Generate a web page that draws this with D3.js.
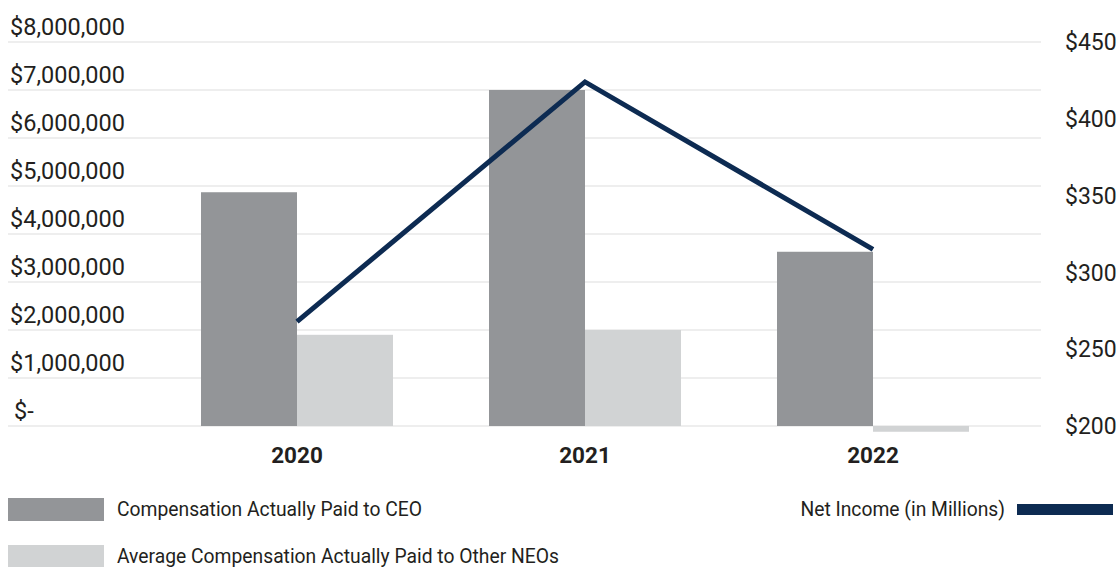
<!DOCTYPE html>
<html>
<head>
<meta charset="utf-8">
<script src="https://cdn.jsdelivr.net/npm/d3@7"></script>
<style>
  html, body { margin: 0; padding: 0; background: #fff; }
  svg { display: block; font-family: Roboto, "Noto Sans", sans-serif; }
</style>
</head>
<body>
<svg id="chart" width="1117" height="567"></svg>
<script>
// ---- data ----
const years = ["2020", "2021", "2022"];
const ceoPay = [4870000, 7000000, 3630000];
const neoPay = [1900000, 2000000, -120000];
const netIncome = [268, 424, 315];
const leftTicks = [0, 1000000, 2000000, 3000000, 4000000, 5000000, 6000000, 7000000, 8000000];
const rightTicks = [200, 250, 300, 350, 400, 450];
const seriesNames = ["Compensation Actually Paid to CEO", "Average Compensation Actually Paid to Other NEOs", "Net Income (in Millions)"];

const colors = { ceo: "#939598", neo: "#d1d3d4", line: "#0d2b52", grid: "#e8e8e8", text: "#231f20" };

const svg = d3.select("#chart");

const yL = d3.scaleLinear().domain([0, 8000000]).range([426, 42]);
const yR = d3.scaleLinear().domain([200, 450]).range([426, 42]);
const x0 = d3.scaleBand().domain(years).range([201, 969]).paddingInner(1/3).paddingOuter(0);
const x1 = d3.scaleBand().domain(["ceo", "neo"]).range([0, x0.bandwidth()]);

// gridlines
svg.append("g").selectAll("line").data(leftTicks).join("line")
  .attr("x1", 8).attr("x2", 1041)
  .attr("y1", d => yL(d)).attr("y2", d => yL(d))
  .attr("stroke", colors.grid).attr("stroke-width", 1.5);

// left axis labels
const fmtL = d => d === 0 ? "$-" : "$" + d3.format(",")(d);
svg.append("g").selectAll("text").data(leftTicks).join("text")
  .attr("x", d => d === 0 ? 14 : 125)
  .attr("y", d => yL(d) - 7)
  .attr("text-anchor", d => d === 0 ? "start" : "end")
  .attr("font-size", 23.5).attr("fill", colors.text)
  .text(fmtL);

// right axis labels
svg.append("g").selectAll("text").data(rightTicks).join("text")
  .attr("x", 1065)
  .attr("y", d => yR(d))
  .attr("dy", "0.36em")
  .attr("font-size", 23).attr("fill", colors.text)
  .text(d => "$" + d);

// bars
const groups = svg.append("g").selectAll("g").data(years).join("g")
  .attr("transform", d => `translate(${x0(d)},0)`);
groups.append("rect")
  .attr("x", x1("ceo")).attr("width", x1.bandwidth())
  .attr("y", (d, i) => yL(Math.max(0, ceoPay[i])))
  .attr("height", (d, i) => Math.abs(yL(ceoPay[i]) - yL(0)))
  .attr("fill", colors.ceo);
groups.append("rect")
  .attr("x", x1("neo")).attr("width", x1.bandwidth())
  .attr("y", (d, i) => yL(Math.max(0, neoPay[i])))
  .attr("height", (d, i) => Math.abs(yL(neoPay[i]) - yL(0)))
  .attr("fill", colors.neo);

// line
const line = d3.line()
  .x((d, i) => x0(years[i]) + x0.bandwidth() / 2)
  .y(d => yR(d));
svg.append("path").datum(netIncome)
  .attr("d", line)
  .attr("fill", "none").attr("stroke", colors.line).attr("stroke-width", 5)
  .attr("stroke-linejoin", "miter");

// x labels
svg.append("g").selectAll("text").data(years).join("text")
  .attr("x", d => x0(d) + x0.bandwidth() / 2)
  .attr("y", 463)
  .attr("text-anchor", "middle")
  .attr("font-size", 22.5).attr("font-weight", "bold").attr("fill", colors.text)
  .text(d => d);

// legend
const lg = svg.append("g");
lg.append("rect").attr("x", 8).attr("y", 498).attr("width", 96).attr("height", 23).attr("fill", colors.ceo);
lg.append("text").attr("x", 117).attr("y", 509).attr("dy", "0.36em").attr("font-size", 19.3).attr("fill", colors.text).text(seriesNames[0]);
lg.append("rect").attr("x", 8).attr("y", 545).attr("width", 96).attr("height", 23).attr("fill", colors.neo);
lg.append("text").attr("x", 117).attr("y", 556).attr("dy", "0.36em").attr("font-size", 19.3).attr("fill", colors.text).text(seriesNames[1]);
lg.append("text").attr("x", 1005).attr("y", 509).attr("dy", "0.36em").attr("text-anchor", "end").attr("font-size", 19.3).attr("fill", colors.text).text(seriesNames[2]);
lg.append("rect").attr("x", 1017).attr("y", 504).attr("width", 96).attr("height", 11).attr("fill", colors.line);
</script>
</body>
</html>
